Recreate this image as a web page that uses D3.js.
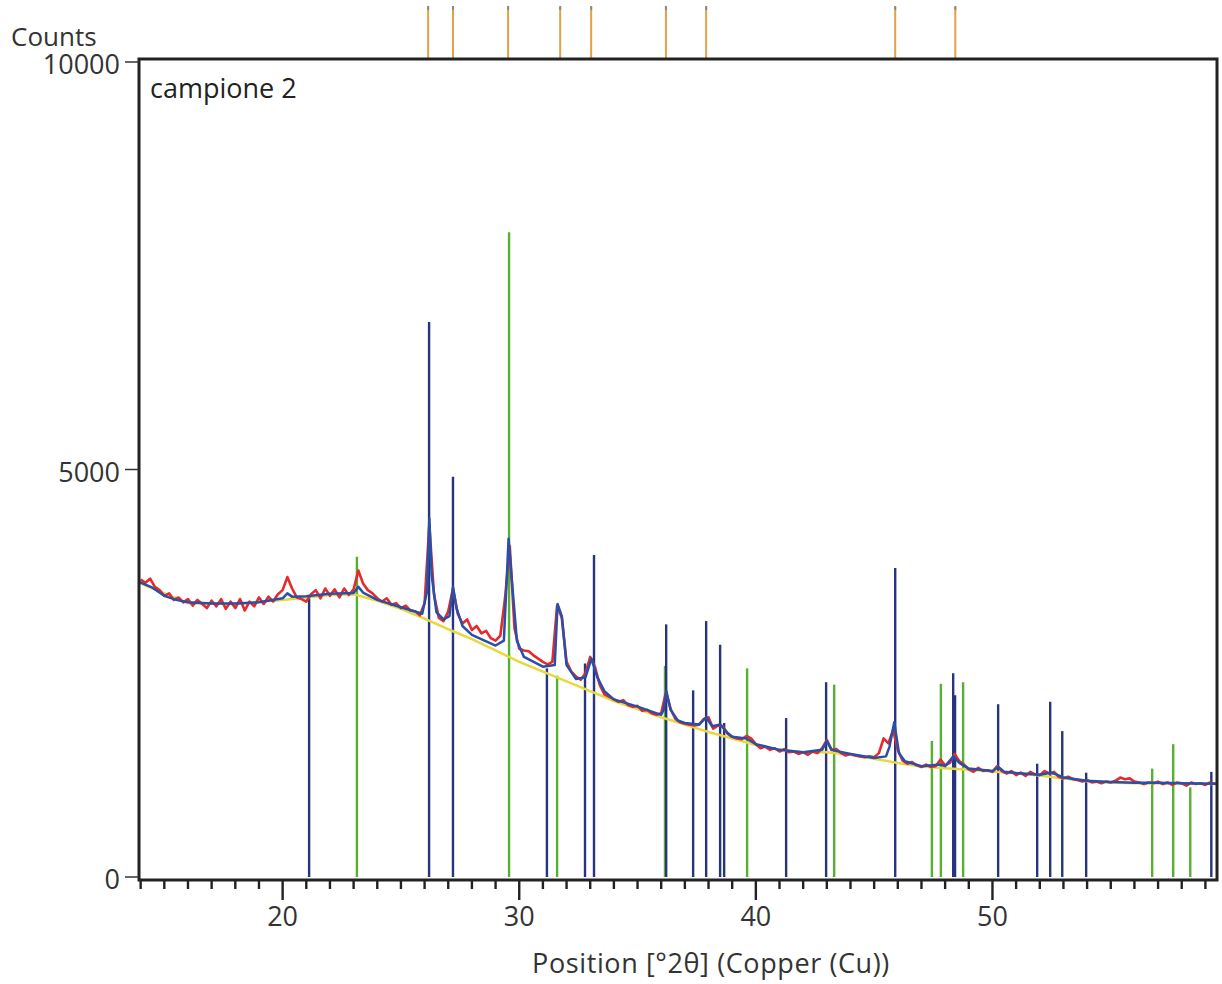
<!DOCTYPE html>
<html><head><meta charset="utf-8">
<script src="https://cdn.jsdelivr.net/npm/d3@7"></script>
<style>body{margin:0;background:#fff}</style>
</head><body>
<svg id="c" width="1222" height="984"></svg>
<script>
// ---- data ----
const obsStart = 14.0, obsStep = 0.2;
const obsCounts = [
 3650,3610,3660,3560,3520,3450,3480,3400,3430,3370,
 3410,3330,3400,3350,3300,3390,3320,3410,3290,3380,
 3300,3410,3270,3380,3320,3430,3350,3440,3380,3470,
 3520,3680,3540,3430,3410,3380,3470,3520,3420,3540,
 3450,3530,3430,3540,3460,3530,3760,3600,3520,3480,
 3420,3380,3420,3340,3360,3300,3330,3270,3260,3210,
 3360,4320,3460,3180,3140,3260,3540,3230,3110,3160,
 3030,3080,2990,3020,2930,2900,2960,3420,4060,3050,
 2800,2780,2770,2720,2680,2640,2610,2640,3330,3180,
 2640,2520,2460,2420,2500,2700,2580,2360,2240,2210,
 2180,2150,2170,2110,2090,2100,2040,2050,2010,1990,
 2010,2270,2060,1940,1900,1880,1870,1860,1870,1940,
 1960,1820,1860,1850,1760,1720,1700,1690,1730,1700,
 1630,1580,1600,1560,1580,1540,1570,1530,1540,1510,
 1530,1500,1540,1520,1580,1680,1560,1570,1520,1490,
 1510,1490,1480,1470,1480,1470,1520,1700,1640,1800,
 1560,1430,1390,1410,1370,1350,1380,1350,1360,1440,
 1370,1400,1510,1420,1380,1320,1290,1340,1300,1310,
 1290,1360,1300,1270,1300,1250,1280,1240,1290,1260,
 1250,1300,1270,1290,1230,1210,1230,1200,1190,1170,
 1190,1160,1170,1150,1170,1160,1180,1220,1200,1210,
 1170,1160,1140,1160,1150,1170,1140,1160,1130,1160,
 1150,1120,1160,1140,1150,1130,1160,1140
];
const calcAngles = [13.93,14.5,15,15.5,16,17,18,19,20,20.2,20.4,21,22,23,23.2,23.4,24,25,25.9,26.1,26.2,26.3,26.5,26.8,27.05,27.2,27.35,27.6,28,29,29.35,29.55,29.7,29.9,30.2,31,31.5,31.62,31.8,32,32.4,32.8,33.05,33.3,33.6,34,35,36,36.1,36.22,36.4,36.7,37,37.6,37.9,38.15,38.5,38.8,39,39.6,40,41,42,42.8,43,43.2,44,45,45.5,45.65,45.85,46.05,46.3,47,47.8,48,48.35,48.6,49,50,50.25,50.5,51,52,52.45,52.7,53,54,55,56,57,58,59.49];
const calcCounts = [3620,3550,3450,3400,3370,3355,3355,3370,3420,3480,3440,3445,3475,3485,3560,3490,3400,3310,3230,3500,4400,3700,3250,3160,3200,3560,3300,3080,2970,2840,2900,4150,3600,2900,2700,2580,2600,3350,3200,2600,2430,2450,2680,2450,2280,2180,2090,1990,2050,2280,2050,1920,1890,1870,1960,1850,1870,1770,1720,1700,1630,1560,1530,1560,1670,1560,1510,1460,1480,1600,1900,1520,1420,1360,1380,1360,1480,1400,1330,1300,1350,1290,1275,1255,1280,1260,1220,1180,1165,1155,1155,1150,1145];
const bgAngles = [13.93,16,18,20,22,23,24,25,26,27,28,29,30,31,32,33,34,35,36,37,38,39,40,41,42,43,44,45,46,47,48,49,50,51,52,53,54,55,56,58,59.49];
const bgCounts = [3610,3360,3350,3400,3460,3470,3390,3290,3170,3040,2920,2780,2640,2520,2400,2280,2160,2060,1960,1870,1780,1700,1620,1560,1530,1530,1500,1450,1400,1355,1335,1315,1295,1270,1245,1210,1175,1160,1150,1148,1140];
const blueStickAngles = [21.12,26.19,27.2,31.17,32.78,33.16,36.21,37.35,37.9,38.49,38.66,41.28,42.97,45.89,48.34,48.42,50.24,51.89,52.44,52.95,53.96,59.25];
const blueStickCounts = [3420,6810,4910,2560,2620,3950,3100,2290,3140,2850,1890,1950,2390,3790,2500,2230,2120,1390,2150,1790,1280,1290];
const greenStickAngles = [23.14,29.57,31.6,36.16,39.63,43.31,47.44,47.82,48.76,56.75,57.64,58.36];
const greenStickCounts = [3930,7910,2470,2590,2560,2360,1670,2370,2390,1330,1630,1100];
const refMarkerAngles = [26.15,27.2,29.53,31.73,33.04,36.2,37.9,45.89,48.43];
const xTickLabels = [20,30,40,50];
const yTickLabels = [0,5000,10000];

// ---- drawing ----
const svg = d3.select('#c');
const FONT = '"Open Sans", "DejaVu Sans", sans-serif';
const FS = 27;
const x = d3.scaleLinear().domain([13.93, 59.49]).range([139, 1217]);
const y = d3.scaleLinear().domain([0, 10000]).range([877, 62]);

const obs = obsCounts.map((c,i)=>[obsStart + i*obsStep, c]);
const calc = calcAngles.map((a,i)=>[a, calcCounts[i]]);
const bg = bgAngles.map((a,i)=>[a, bgCounts[i]]);
const line = d3.line().x(d=>x(d[0])).y(d=>y(d[1]));

// reference markers above the frame
svg.append('g').selectAll('line').data(refMarkerAngles).join('line')
  .attr('x1',d=>x(d)).attr('x2',d=>x(d)).attr('y1',7).attr('y2',58)
  .attr('stroke','#e3a048').attr('stroke-width',2);
svg.append('g').selectAll('line').data(refMarkerAngles).join('line')
  .attr('x1',d=>x(d)).attr('x2',d=>x(d)).attr('y1',6).attr('y2',10)
  .attr('stroke','#8a8a80').attr('stroke-width',2);

// sticks
svg.append('g').selectAll('line').data(greenStickAngles.map((a,i)=>[a,greenStickCounts[i]])).join('line')
  .attr('x1',d=>x(d[0])).attr('x2',d=>x(d[0])).attr('y1',y(0)).attr('y2',d=>y(d[1]))
  .attr('stroke','#58b030').attr('stroke-width',2.4);
svg.append('g').selectAll('line').data(blueStickAngles.map((a,i)=>[a,blueStickCounts[i]])).join('line')
  .attr('x1',d=>x(d[0])).attr('x2',d=>x(d[0])).attr('y1',y(0)).attr('y2',d=>y(d[1]))
  .attr('stroke','#27357e').attr('stroke-width',2.4);

// curves
svg.append('path').attr('d',line(bg)).attr('fill','none').attr('stroke','#e8d840').attr('stroke-width',2.5);
svg.append('path').attr('d',line(obs)).attr('fill','none').attr('stroke','#e42a2a').attr('stroke-width',2.6).attr('stroke-linejoin','round');
svg.append('path').attr('d',line(calc)).attr('fill','none').attr('stroke','#2a4fa8').attr('stroke-width',2.5).attr('stroke-linejoin','round');

// frame
svg.append('rect').attr('x',139).attr('y',59).attr('width',1078).attr('height',821)
  .attr('fill','none').attr('stroke','#222').attr('stroke-width',3);

// y axis ticks
const yg = svg.append('g');
yg.selectAll('line').data(yTickLabels).join('line')
  .attr('x1',125).attr('x2',139).attr('y1',d=>y(d)).attr('y2',d=>y(d))
  .attr('stroke','#333').attr('stroke-width',1.5);
yg.selectAll('text').data(yTickLabels).join('text')
  .attr('x',120).attr('y',d=>y(d)+5).attr('text-anchor','end').attr('dominant-baseline','middle')
  .attr('font-family',FONT).attr('font-size',FS).attr('fill','#333').text(d=>d);

// x axis ticks
const xg = svg.append('g');
const minor = d3.range(14, 60, 1);
xg.selectAll('line.minor').data(minor).join('line').attr('class','minor')
  .attr('x1',d=>x(d)).attr('x2',d=>x(d)).attr('y1',880).attr('y2',d=>xTickLabels.includes(d)?900:889)
  .attr('stroke','#222').attr('stroke-width',2.4);
xg.selectAll('text').data(xTickLabels).join('text')
  .attr('x',d=>x(d)).attr('y',919).attr('text-anchor','middle').attr('dominant-baseline','middle')
  .attr('font-family',FONT).attr('font-size',FS).attr('fill','#333').text(d=>d);

// titles
svg.append('text').attr('x',711).attr('y',966).attr('text-anchor','middle').attr('dominant-baseline','middle')
  .attr('font-family',FONT).attr('font-size',FS).attr('letter-spacing',0.6).attr('fill','#333').text('Position [°2θ] (Copper (Cu))');
svg.append('text').attr('x',11).attr('y',39).attr('dominant-baseline','middle')
  .attr('font-family',FONT).attr('font-size',FS-1).attr('fill','#333').text('Counts');
svg.append('text').attr('x',150).attr('y',91).attr('dominant-baseline','middle')
  .attr('font-family',FONT).attr('font-size',FS).attr('fill','#222').text('campione 2');
</script>
</body></html>
